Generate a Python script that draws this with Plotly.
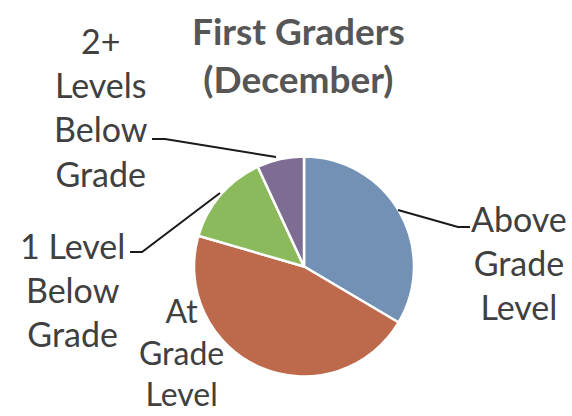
import plotly.graph_objects as go

categories = ["Above Grade Level", "At Grade Level", "1 Level Below Grade", "2+ Levels Below Grade"]
values = [33.5, 46.0, 13.6, 6.9]
colors = ["#7391b4", "#bd6a4c", "#8bba5c", "#7e6d92"]
label_lines = [["Above", "Grade", "Level"], ["At", "Grade", "Level"],
               ["1 Level", "Below", "Grade"], ["2+", "Levels", "Below", "Grade"]]
title_text = "First Graders<br>(December)"

W, H = 572, 416
cx, cy, r = 304, 266.5, 110

fig = go.Figure(go.Pie(
    labels=categories, values=values, sort=False, direction="clockwise", rotation=0,
    marker=dict(colors=colors, line=dict(color="white", width=2.5)),
    textinfo="none", hoverinfo="label+percent", showlegend=False,
    domain=dict(x=[(cx - r) / W, (cx + r) / W], y=[(H - cy - r) / H, (H - cy + r) / H]),
))

FONT = "Lato"
TXT = "#404040"

# label centre positions in pixels (x, y from top) and font sizes
label_pos = [(519, 262), (181, 352), (72, 289), (101, 107)]
label_size = [34, 32, 34, 34]
annotations = []
for lines, (x, y), s in zip(label_lines, label_pos, label_size):
    annotations.append(dict(
        text="<br>".join(lines), x=x / W, y=1 - y / H, xref="paper", yref="paper",
        showarrow=False, xanchor="center", yanchor="middle", align="center",
        font=dict(family=FONT, size=s, color=TXT)))
annotations.append(dict(
    text="<b>" + title_text + "</b>", x=298 / W, y=1 - 55 / H, xref="paper", yref="paper",
    showarrow=False, xanchor="center", yanchor="middle", align="center",
    font=dict(family=FONT, size=37, color="#565656")))

def px_path(pts):
    return "M " + " L ".join(f"{x / W:.4f},{1 - y / H:.4f}" for x, y in pts)

leaders = [
    [(470, 227), (458, 227), (398, 210)],
    [(130, 252), (142, 252), (220, 193)],
    [(152, 139), (165, 139), (276, 157)],
]
shapes = [dict(type="path", path=px_path(p), xref="paper", yref="paper",
               line=dict(color="#1a1a1a", width=2)) for p in leaders]

fig.update_layout(width=W, height=H, margin=dict(l=0, r=0, t=0, b=0),
                  paper_bgcolor="white", plot_bgcolor="white",
                  annotations=annotations, shapes=shapes)
fig.write_html("out.html", config={"displayModeBar": False},
               post_script="document.body.style.margin='0';document.body.style.padding='0';")
